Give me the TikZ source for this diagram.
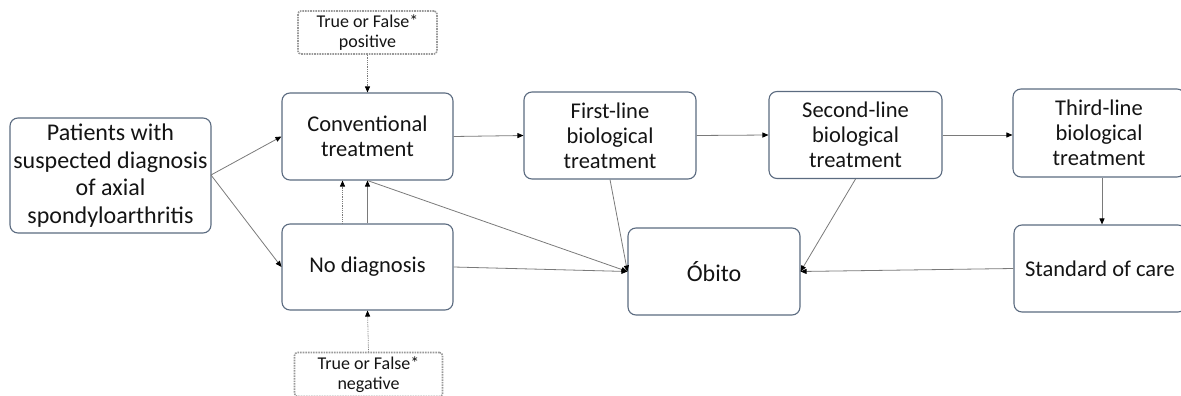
\documentclass[tikz,border=0pt]{standalone}
\usepackage{fontspec}
\setmainfont{Carlito}
\usetikzlibrary{arrows.meta}
\definecolor{boxline}{HTML}{5B6B80}
\definecolor{conn}{HTML}{7A7A7A}
\definecolor{txt}{HTML}{141414}
\tikzset{
  mainbox/.style={draw=boxline, line width=1.1pt, rounded corners=8pt, fill=white, align=center, text=txt, font=\fontsize{22.5}{25}\selectfont, inner sep=0pt},
  notebox/.style={draw=gray!80, line width=1.6pt, densely dotted, rounded corners=3pt, align=center, text=txt, font=\fontsize{18}{20}\selectfont, inner sep=0pt},
  arr/.style={draw=conn, line width=0.8pt, -{Triangle[length=6pt,width=5pt,fill=black,color=black]}},
  darr/.style={arr, densely dotted},
}
\begin{document}
\begin{tikzpicture}[x=1pt,y=-1pt]
\useasboundingbox (0,0) rectangle (1181,396);
\begin{scope}
\clip (0,0) rectangle (1181,396);
% main boxes: centre, width, height
\node[mainbox, minimum width=201pt, minimum height=115pt, font=\fontsize{24}{27.7}\selectfont] (pat) at (110.5,175.5) {Patients with\\suspected diagnosis\\of axial\\spondyloarthritis};
\node[mainbox, minimum width=171pt, minimum height=87pt] (conv) at (367.5,136.5) {Conventional\\treatment};
\node[mainbox, minimum width=171pt, minimum height=86pt] (nodiag) at (367.5,267) {No diagnosis};
\node[mainbox, minimum width=172pt, minimum height=87pt] (first) at (610,135.5) {First-line\\biological\\treatment};
\node[mainbox, minimum width=173pt, minimum height=87pt] (second) at (855.5,135) {Second-line\\biological\\treatment};
\node[mainbox, minimum width=172pt, minimum height=88pt] (third) at (1099,133) {Third-line\\biological\\treatment};
\node[mainbox, minimum width=172pt, minimum height=87pt] (soc) at (1100,268.5) {Standard of care};
\node[mainbox, minimum width=172pt, minimum height=87pt, font=\fontsize{24}{25}\selectfont] (obito) at (714,271.5) {Óbito};
\node[notebox, minimum width=139pt, minimum height=43pt] (pos) at (367.5,32.5) {True or False*\\positive};
\node[notebox, minimum width=148pt, minimum height=44pt] (neg) at (368.5,374.5) {True or False*\\negative};

\coordinate (patE) at (211,175);
\draw[arr] (patE) -- (conv.west);
\draw[arr] (patE) -- (nodiag.west);
\draw[arr] (conv.east) -- (first.west);
\draw[arr] (first.east) -- (second.west);
\draw[arr] (second.east) -- (third.west |- second.east);
\draw[arr] (third.south -| 1102,0) -- (soc.north -| 1102,0);
\draw[darr] (pos.south) -- (conv.north);
\draw[darr] (neg.north) -- (nodiag.north |- nodiag.south);
\draw[arr] (nodiag.north) -- (conv.south);
\draw[darr] ([xshift=-25pt]nodiag.north) -- ([xshift=-25pt]conv.south);
\draw[arr] (conv.south) -- (obito.west);
\draw[arr] (nodiag.east) -- (obito.west);
\draw[arr] (first.south) -- (obito.west);
\draw[arr] (second.south) -- (obito.east);
\draw[arr] (soc.west) -- (obito.east);
\end{scope}
\end{tikzpicture}
\end{document}
